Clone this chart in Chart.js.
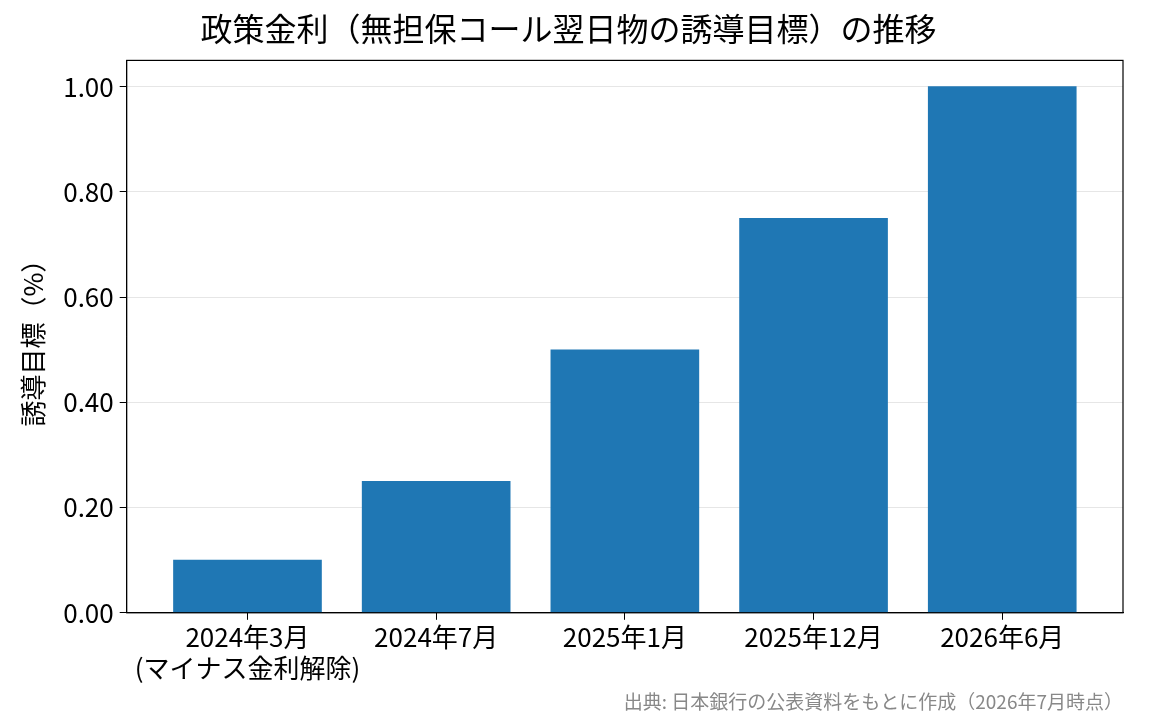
<!DOCTYPE html>
<html><head><meta charset="utf-8">
<script src="https://cdn.jsdelivr.net/npm/chart.js@4/dist/chart.umd.min.js"></script>
<style>html,body{margin:0;padding:0;background:#fff}#w{width:1165px;height:725px}</style>
</head><body><div id="w"><canvas id="c"></canvas></div>
<script>
const categories = [["2024年3月","(マイナス金利解除)"],"2024年7月","2025年1月","2025年12月","2026年6月"];
const rates = [0.10, 0.25, 0.50, 0.75, 1.00];
const yTicks = [0, 0.2, 0.4, 0.6, 0.8, 1.0];
const F = "'Noto Sans CJK JP','Noto Sans',sans-serif";
const box = {id:'box',afterDraw(c){const a=c.chartArea,x=c.ctx;x.save();x.strokeStyle='#000';x.lineWidth=1.2;x.strokeRect(a.left,a.top,a.right-a.left,a.bottom-a.top);x.restore();}};
new Chart(document.getElementById('c'),{
type:'bar',
data:{datasets:[{data:rates.map((v,i)=>({x:i,y:v})),backgroundColor:'#1f77b4',barThickness:148,borderWidth:0}]},
options:{responsive:true,maintainAspectRatio:false,animation:false,
layout:{padding:{left:14,right:42,top:0,bottom:0}},
plugins:{legend:{display:false},tooltip:{enabled:false},
title:{display:true,text:'政策金利（無担保コール翌日物の誘導目標）の推移',color:'#000',font:{family:F,size:32,weight:'normal'},padding:{top:10,bottom:12}},
subtitle:{display:true,position:'bottom',align:'end',text:'出典: 日本銀行の公表資料をもとに作成（2026年7月時点）',color:'#888',font:{family:F,size:19},padding:{top:4,bottom:12}}},
scales:{
x:{type:'linear',min:-0.64,max:4.64,offset:false,afterBuildTicks(s){s.ticks=categories.map((_,i)=>({value:i}));},
ticks:{autoSkip:false,maxRotation:0,color:'#000',font:{family:F,size:26},padding:2,callback:(v)=>categories[v]},
grid:{offset:false,color:'rgba(0,0,0,0)',tickColor:'#000',tickLength:7,drawOnChartArea:false},border:{color:'#000'}},
y:{min:0,max:1.05,afterBuildTicks(s){s.ticks=yTicks.map(v=>({value:v}));},
ticks:{color:'#000',font:{family:F,size:26},padding:6,callback:v=>v.toFixed(2)},
grid:{color:'#e6e6e6',tickColor:'#000',tickLength:7},border:{color:'#000'},
title:{display:true,text:'誘導目標（%）',color:'#000',font:{family:F,size:26},padding:{bottom:8}}}}},
plugins:[box]});
</script></body></html>
